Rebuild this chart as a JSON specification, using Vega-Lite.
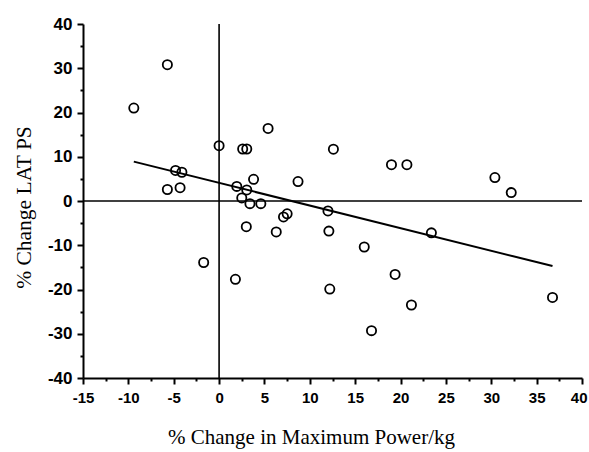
{
  "$schema": "https://vega.github.io/schema/vega-lite/v6.json",
  "autosize": {"type": "none"},
  "width": 499,
  "height": 354,
  "padding": {"left": 83, "top": 24, "right": 7, "bottom": 74},
  "background": "white",
  "config": {"view": {"stroke": null}, "axis": {"grid": false, "domainColor": "black", "tickColor": "black", "labelColor": "black", "titleColor": "black", "domainWidth": 2, "tickWidth": 2, "labelFlush": false}},
  "datasets": {
    "pts": [
      {"x": -9.4, "y": 21.0}, {"x": -5.7, "y": 30.8}, {"x": -4.8, "y": 6.9}, {"x": -4.1, "y": 6.5},
      {"x": -5.7, "y": 2.6}, {"x": -4.3, "y": 3.0}, {"x": -1.7, "y": -13.9}, {"x": 0.0, "y": 12.5},
      {"x": 1.8, "y": -17.7}, {"x": 1.95, "y": 3.3}, {"x": 2.5, "y": 0.7}, {"x": 3.05, "y": 2.5},
      {"x": 2.6, "y": 11.75}, {"x": 3.05, "y": 11.75}, {"x": 3.4, "y": -0.6}, {"x": 3.8, "y": 4.9},
      {"x": 3.0, "y": -5.8}, {"x": 4.6, "y": -0.6}, {"x": 5.4, "y": 16.4}, {"x": 6.3, "y": -7.0},
      {"x": 7.1, "y": -3.6}, {"x": 7.5, "y": -2.9}, {"x": 8.7, "y": 4.4}, {"x": 12.0, "y": -2.25},
      {"x": 12.1, "y": -6.8}, {"x": 12.2, "y": -19.9}, {"x": 12.6, "y": 11.7}, {"x": 16.0, "y": -10.4},
      {"x": 16.8, "y": -29.3}, {"x": 19.0, "y": 8.2}, {"x": 19.4, "y": -16.6}, {"x": 20.7, "y": 8.2},
      {"x": 21.2, "y": -23.5}, {"x": 23.4, "y": -7.2}, {"x": 30.4, "y": 5.3}, {"x": 32.2, "y": 1.9},
      {"x": 36.75, "y": -21.8}
    ],
    "fit": [{"x": -9.4, "y": 8.9}, {"x": 36.75, "y": -14.7}],
    "zero": [{"v": 0}]
  },
  "layer": [
    {
      "data": {"name": "zero"},
      "mark": {"type": "rule", "color": "black", "strokeWidth": 1.6},
      "encoding": {"x": {"field": "v", "type": "quantitative", "scale": {"domain": [-15, 40]}, "axis": null}}
    },
    {
      "data": {"name": "zero"},
      "mark": {"type": "rule", "color": "black", "strokeWidth": 1.6},
      "encoding": {"y": {"field": "v", "type": "quantitative", "scale": {"domain": [-40, 40]}, "axis": null}}
    },
    {
      "data": {"name": "fit"},
      "mark": {"type": "line", "color": "black", "strokeWidth": 2},
      "encoding": {
        "x": {"field": "x", "type": "quantitative", "scale": {"domain": [-15, 40], "nice": false, "zero": false},
          "axis": {"orient": "bottom", "values": [-12.5, -7.5, -2.5, 2.5, 7.5, 12.5, 17.5, 22.5, 27.5, 32.5, 37.5], "labels": false, "tickSize": 3, "domain": false, "title": null}},
        "y": {"field": "y", "type": "quantitative", "scale": {"domain": [-40, 40], "nice": false, "zero": false},
          "axis": {"orient": "left", "values": [-35, -25, -15, -5, 5, 15, 25, 35], "labels": false, "tickSize": 3, "domain": false, "title": null}}
      }
    },
    {
      "data": {"name": "pts"},
      "mark": {"type": "point", "shape": "circle", "filled": false, "color": "black", "size": 85, "strokeWidth": 1.8, "opacity": 1},
      "encoding": {
        "x": {"field": "x", "type": "quantitative", "scale": {"domain": [-15, 40], "nice": false, "zero": false},
          "axis": {"orient": "bottom", "values": [-15, -10, -5, 0, 5, 10, 15, 20, 25, 30, 35, 40], "labelExpr": "toString(datum.value)", "tickSize": 6, "labelFont": "Liberation Sans", "labelFontWeight": "bold", "labelFontSize": 15, "labelPadding": 6,
            "labelAlign": {"condition": {"test": "datum.value == 40", "value": "right"}, "value": "center"},
            "labelOffset": {"condition": {"test": "datum.value == 40", "value": 5}, "value": 0},
            "title": "% Change in Maximum Power/kg", "titleFont": "Liberation Serif", "titleFontWeight": "normal", "titleFontSize": 21, "titlePadding": 21, "titleX": 228, "titleAnchor": "middle", "titleAlign": "center"}},
        "y": {"field": "y", "type": "quantitative", "scale": {"domain": [-40, 40], "nice": false, "zero": false},
          "axis": {"orient": "left", "values": [-40, -30, -20, -10, 0, 10, 20, 30, 40], "labelExpr": "toString(datum.value)", "tickSize": 6, "labelFont": "Liberation Sans", "labelFontWeight": "bold", "labelFontSize": 17, "labelPadding": 5,
            "title": "% Change LAT PS", "titleFont": "Liberation Serif", "titleFontWeight": "normal", "titleFontSize": 21.5, "titlePadding": 12, "titleY": 183, "titleAlign": "center"}}
      }
    }
  ],
  "resolve": {"axis": {"x": "independent", "y": "independent"}}
}
